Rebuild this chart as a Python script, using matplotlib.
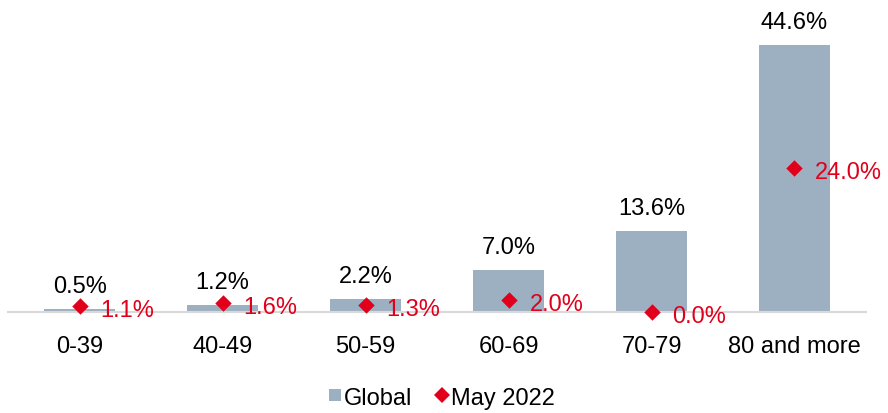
import matplotlib
matplotlib.use("Agg")
import matplotlib.pyplot as plt
from matplotlib.lines import Line2D

categories = ["0-39", "40-49", "50-59", "60-69", "70-79", "80 and more"]
global_vals = [0.5, 1.2, 2.2, 7.0, 13.6, 44.6]
may2022_vals = [1.1, 1.6, 1.3, 2.0, 0.0, 24.0]

BAR_COLOR = "#9DB0C2"
RED = "#E0001B"
FS = 17

plt.rcParams["font.family"] = ["Liberation Sans", "DejaVu Sans"]

fig = plt.figure(figsize=(8.88, 4.14), dpi=100)
ax = fig.add_axes([0.0092, 0.2432, 0.966, 0.7085])

x = list(range(len(categories)))
ax.bar(x, global_vals, width=0.495, color=BAR_COLOR, zorder=2)
ax.scatter(x, may2022_vals, marker="D", s=70, color=RED, zorder=3, linewidths=0,
           clip_on=False)

for xi, v in zip(x, global_vals):
    ax.annotate(f"{v:.1f}%", (xi, v), xytext=(0, 12.2), textcoords="offset points",
                ha="center", va="baseline", fontsize=FS, color="black")
for xi, v in zip(x, may2022_vals):
    ax.annotate(f"{v:.1f}%", (xi, v), xytext=(15, -7.2), textcoords="offset points",
                ha="left", va="baseline", fontsize=FS, color=RED, zorder=4,
                annotation_clip=False)

ax.set_xlim(-0.5, 5.5)
ax.set_ylim(0, 48.9)
for s in ["top", "right", "left"]:
    ax.spines[s].set_visible(False)
ax.spines["bottom"].set_color("#D9D9D9")
ax.spines["bottom"].set_linewidth(1.5)
ax.set_yticks([])
ax.set_xticks(x)
ax.set_xticklabels(categories, fontsize=FS)
ax.tick_params(axis="x", length=0, pad=16.5)

handles = [
    Line2D([0], [0], marker="s", linestyle="none", markersize=8.8,
           markerfacecolor=BAR_COLOR, markeredgewidth=0),
    Line2D([0], [0], marker="D", linestyle="none", markersize=8.4,
           markerfacecolor=RED, markeredgewidth=0),
]
fig.legend(handles, ["Global", "May 2022"], loc="center", bbox_to_anchor=(0.497, 0.037),
           ncol=2, frameon=False, fontsize=FS, handletextpad=0.1,
           columnspacing=0.95, handlelength=0.6, borderpad=0, borderaxespad=0)

fig.savefig("out.png", dpi=100)
